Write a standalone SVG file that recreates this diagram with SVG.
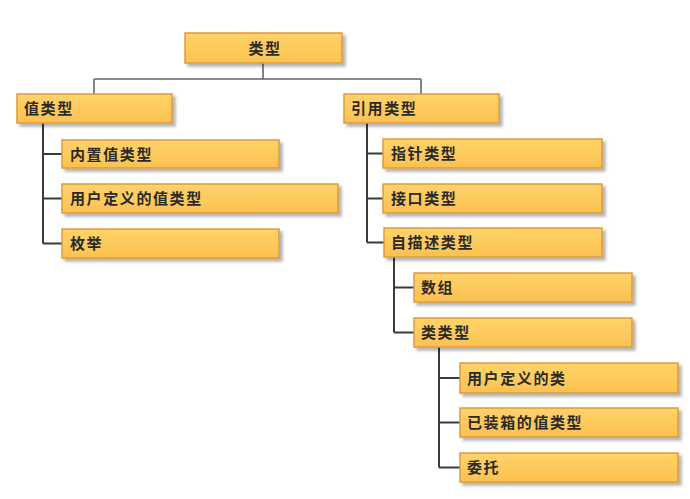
<svg xmlns="http://www.w3.org/2000/svg" width="690" height="499" viewBox="0 0 690 499">
<defs>
<linearGradient id="g" x1="0" y1="0" x2="0" y2="1">
<stop offset="0" stop-color="#FFD36A"/>
<stop offset="1" stop-color="#FCC150"/>
</linearGradient>
<filter id="sh" x="-5%" y="-20%" width="115%" height="160%">
<feGaussianBlur in="SourceAlpha" stdDeviation="1.5"/>
<feOffset dx="3" dy="3" result="b"/>
<feComponentTransfer><feFuncA type="linear" slope="0.3"/></feComponentTransfer>
<feMerge><feMergeNode/><feMergeNode in="SourceGraphic"/></feMerge>
</filter>
</defs>
<style>
.box{fill:url(#g);stroke:#DE9A3C;stroke-width:1.5;filter:url(#sh)}
.t{font-family:"Noto Sans CJK SC","Noto Sans",sans-serif;font-size:15px;font-weight:bold;fill:#2a2a2a;letter-spacing:1.6px}
.c{fill:none;stroke:#3a3a3a;stroke-width:2}
.top{fill:none;stroke:#666;stroke-width:1.6}
</style>
<rect width="690" height="499" fill="#fff"/>
<g id="connectors">
<path class="top" d="M263 63V79M94 79H421M94 79V94M421 79V94"/>
<path class="c" d="M43 123V243.5M43 154H62M43 198.5H62M43 243.5H62"/>
<path class="c" d="M367 123V242.5M367 153.5H383M367 198.5H383M367 242.5H384"/>
<path class="c" d="M394 257V332.5M394 287.5H414M394 332.5H414"/>
<path class="c" d="M439 347V467.5M439 378H460M439 422.5H460M439 467.5H460"/>
</g>
<g id="n-leixing"><rect class="box" x="185" y="33" width="157" height="30"/><text class="t" x="265" y="53.5" text-anchor="middle">类型</text></g>
<g id="n-zhileixing"><rect class="box" x="17" y="94" width="155" height="29"/><text class="t" x="24" y="114">值类型</text></g>
<g id="n-neizhi"><rect class="box" x="62" y="140" width="217" height="28"/><text class="t" x="70" y="159.5">内置值类型</text></g>
<g id="n-yonghuzhi"><rect class="box" x="62" y="184" width="276" height="29"/><text class="t" x="70" y="204">用户定义的值类型</text></g>
<g id="n-meiju"><rect class="box" x="62" y="229" width="217" height="29"/><text class="t" x="70" y="249">枚举</text></g>
<g id="n-yinyong"><rect class="box" x="344" y="94" width="155" height="29"/><text class="t" x="351" y="114">引用类型</text></g>
<g id="n-zhizhen"><rect class="box" x="383" y="139" width="219" height="29"/><text class="t" x="391" y="159">指针类型</text></g>
<g id="n-jiekou"><rect class="box" x="383" y="184" width="219" height="29"/><text class="t" x="391" y="204">接口类型</text></g>
<g id="n-zimiaoshu"><rect class="box" x="384" y="228" width="218" height="29"/><text class="t" x="391" y="248">自描述类型</text></g>
<g id="n-shuzu"><rect class="box" x="414" y="273" width="218" height="29"/><text class="t" x="421" y="293">数组</text></g>
<g id="n-leileixing"><rect class="box" x="414" y="318" width="218" height="29"/><text class="t" x="421" y="338">类类型</text></g>
<g id="n-yonghulei"><rect class="box" x="460" y="363" width="218" height="30"/><text class="t" x="467" y="383.5">用户定义的类</text></g>
<g id="n-yizhuangxiang"><rect class="box" x="460" y="408" width="218" height="29"/><text class="t" x="467" y="428">已装箱的值类型</text></g>
<g id="n-weituo"><rect class="box" x="460" y="453" width="218" height="29"/><text class="t" x="467" y="473">委托</text></g>
</svg>
